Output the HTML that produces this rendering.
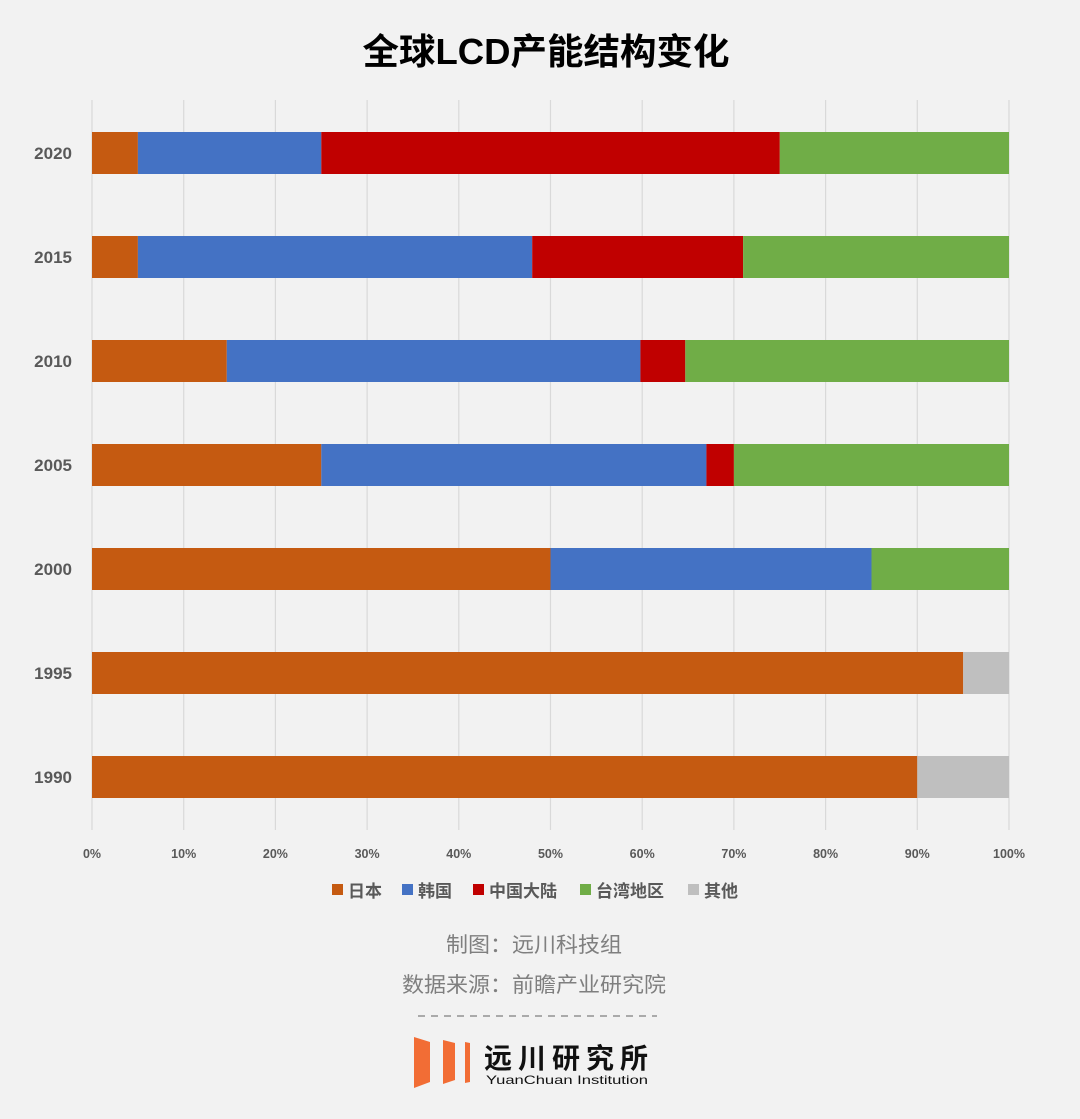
<!DOCTYPE html>
<html><head><meta charset="utf-8"><style>
html,body{margin:0;padding:0;background:#f2f2f2;}
svg{display:block}
text{font-family:"Liberation Sans","Noto Sans CJK SC",sans-serif;}
</style></head><body>
<svg width="1080" height="1119" viewBox="0 0 1080 1119" xmlns="http://www.w3.org/2000/svg">
<rect width="1080" height="1119" fill="#f2f2f2"/>
<text x="546" y="64" text-anchor="middle" font-size="36" font-weight="bold" fill="#000" textLength="367" lengthAdjust="spacingAndGlyphs">全球LCD产能结构变化</text>
<g stroke="#d9d9d9" stroke-width="1.2">
<line x1="92" y1="100" x2="92" y2="830"/><line x1="183.7" y1="100" x2="183.7" y2="830"/><line x1="275.4" y1="100" x2="275.4" y2="830"/><line x1="367.1" y1="100" x2="367.1" y2="830"/><line x1="458.8" y1="100" x2="458.8" y2="830"/><line x1="550.5" y1="100" x2="550.5" y2="830"/><line x1="642.2" y1="100" x2="642.2" y2="830"/><line x1="733.9" y1="100" x2="733.9" y2="830"/><line x1="825.6" y1="100" x2="825.6" y2="830"/><line x1="917.3" y1="100" x2="917.3" y2="830"/><line x1="1009" y1="100" x2="1009" y2="830"/>
</g>
<rect x="92" y="132" width="45.9" height="42" fill="#c55a11"/>
<rect x="137.9" y="132" width="183.4" height="42" fill="#4472c4"/>
<rect x="321.3" y="132" width="458.5" height="42" fill="#c00000"/>
<rect x="779.8" y="132" width="229.2" height="42" fill="#70ad47"/>
<rect x="92" y="236" width="45.9" height="42" fill="#c55a11"/>
<rect x="137.9" y="236" width="394.3" height="42" fill="#4472c4"/>
<rect x="532.2" y="236" width="210.9" height="42" fill="#c00000"/>
<rect x="743.1" y="236" width="265.9" height="42" fill="#70ad47"/>
<rect x="92" y="340" width="134.8" height="42" fill="#c55a11"/>
<rect x="226.8" y="340" width="413.6" height="42" fill="#4472c4"/>
<rect x="640.4" y="340" width="44.9" height="42" fill="#c00000"/>
<rect x="685.3" y="340" width="323.7" height="42" fill="#70ad47"/>
<rect x="92" y="444" width="229.3" height="42" fill="#c55a11"/>
<rect x="321.3" y="444" width="385.1" height="42" fill="#4472c4"/>
<rect x="706.4" y="444" width="27.5" height="42" fill="#c00000"/>
<rect x="733.9" y="444" width="275.1" height="42" fill="#70ad47"/>
<rect x="92" y="548" width="458.5" height="42" fill="#c55a11"/>
<rect x="550.5" y="548" width="321" height="42" fill="#4472c4"/>
<rect x="871.5" y="548" width="137.5" height="42" fill="#70ad47"/>
<rect x="92" y="652" width="871.2" height="42" fill="#c55a11"/>
<rect x="963.2" y="652" width="45.8" height="42" fill="#bfbfbf"/>
<rect x="92" y="756" width="825.3" height="42" fill="#c55a11"/>
<rect x="917.3" y="756" width="91.7" height="42" fill="#bfbfbf"/>
<g font-size="17" font-weight="bold" fill="#595959" text-anchor="end">
<text x="72" y="159">2020</text><text x="72" y="263">2015</text><text x="72" y="367">2010</text><text x="72" y="471">2005</text><text x="72" y="575">2000</text><text x="72" y="679">1995</text><text x="72" y="783">1990</text>
</g>
<g font-size="12.5" font-weight="bold" fill="#595959" text-anchor="middle">
<text x="92" y="858">0%</text><text x="183.7" y="858">10%</text><text x="275.4" y="858">20%</text><text x="367.1" y="858">30%</text><text x="458.8" y="858">40%</text><text x="550.5" y="858">50%</text><text x="642.2" y="858">60%</text><text x="733.9" y="858">70%</text><text x="825.6" y="858">80%</text><text x="917.3" y="858">90%</text><text x="1009" y="858">100%</text>
</g>
<g font-size="17" font-weight="bold" fill="#595959">
<rect x="332" y="884" width="11" height="11" fill="#c55a11"/><text x="348" y="897">日本</text>
<rect x="402" y="884" width="11" height="11" fill="#4472c4"/><text x="418" y="897">韩国</text>
<rect x="473" y="884" width="11" height="11" fill="#c00000"/><text x="489" y="897">中国大陆</text>
<rect x="580" y="884" width="11" height="11" fill="#70ad47"/><text x="596" y="897">台湾地区</text>
<rect x="688" y="884" width="11" height="11" fill="#bfbfbf"/><text x="704" y="897">其他</text>
</g>
<g font-size="21" fill="#7f7f7f" text-anchor="middle">
<text x="534" y="952" textLength="176" lengthAdjust="spacingAndGlyphs">制图：远川科技组</text>
<text x="534" y="992" textLength="264" lengthAdjust="spacingAndGlyphs">数据来源：前瞻产业研究院</text>
</g>
<line x1="418" y1="1016" x2="657" y2="1016" stroke="#7f7f7f" stroke-width="1.3" stroke-dasharray="7,6"/>
<polygon points="414,1037 430,1042 430,1082 414,1088" fill="#f26d35"/>
<polygon points="443,1040 455,1043 455,1080 443,1084" fill="#f26d35"/>
<polygon points="465,1042 470,1043 470,1082 465,1083" fill="#f26d35"/>
<text x="484" y="1068" font-size="28" font-weight="bold" fill="#111" textLength="164" lengthAdjust="spacing">远川研究所</text>
<text x="486" y="1084" font-size="12" fill="#111" textLength="162" lengthAdjust="spacingAndGlyphs">YuanChuan Institution</text>
</svg>
</body></html>
